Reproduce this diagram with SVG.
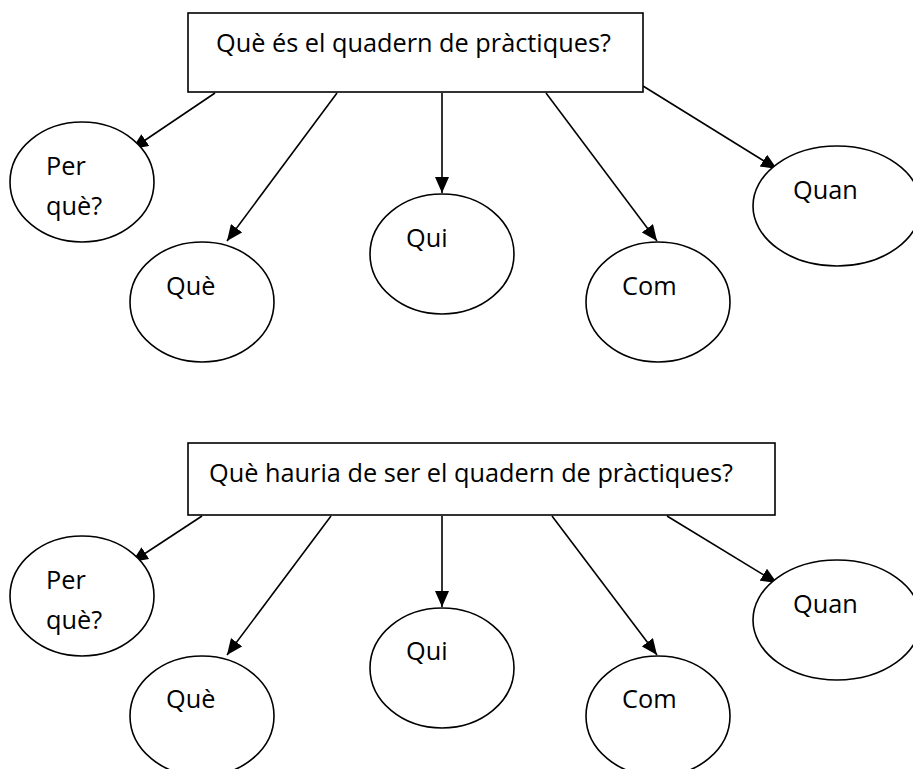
<svg xmlns="http://www.w3.org/2000/svg" width="913" height="769" viewBox="0 0 913 769">
<defs>
<marker id="ah" markerUnits="userSpaceOnUse" markerWidth="16" markerHeight="14" refX="16" refY="7" orient="auto">
<path d="M0,0 L16,7 L0,14 Z" fill="#000"/>
</marker>
<style>
.box{fill:#fff;stroke:#000;stroke-width:1.6}
.el{fill:#fff;stroke:#000;stroke-width:1.6}
.t{font-family:"Open Sans","Noto Sans","DejaVu Sans",sans-serif;font-size:25.3px;fill:#000}
.c{stroke:#000;stroke-width:1.6;fill:none;marker-end:url(#ah)}
</style>
</defs>
<rect width="913" height="769" fill="#fff"/>
<g id="connectors">
<line class="c" x1="215" y1="93" x2="132" y2="149"/>
<line class="c" x1="337" y1="93" x2="227" y2="241"/>
<line class="c" x1="442" y1="93" x2="442" y2="193"/>
<line class="c" x1="546" y1="93" x2="657" y2="241"/>
<line class="c" x1="643" y1="86" x2="777" y2="169"/>
<line class="c" x1="202" y1="516" x2="132" y2="562"/>
<line class="c" x1="331" y1="516" x2="227" y2="655"/>
<line class="c" x1="442" y1="516" x2="442" y2="607"/>
<line class="c" x1="552" y1="516" x2="657" y2="655"/>
<line class="c" x1="667" y1="516" x2="777" y2="583"/>
</g>
<g id="q1">
<rect class="box" x="188" y="13" width="455" height="79"/>
<text class="t" x="216" y="52">Què és el quadern de pràctiques?</text>
</g>
<g id="q1-perque">
<ellipse class="el" cx="82" cy="182" rx="72" ry="60"/>
<text class="t" x="46" y="175">Per</text>
<text class="t" x="46" y="215">què?</text>
</g>
<g id="q1-que">
<ellipse class="el" cx="202" cy="302" rx="72" ry="60"/>
<text class="t" x="166" y="295">Què</text>
</g>
<g id="q1-qui">
<ellipse class="el" cx="442" cy="254" rx="72" ry="60"/>
<text class="t" x="406" y="247">Qui</text>
</g>
<g id="q1-com">
<ellipse class="el" cx="658" cy="302" rx="72" ry="60"/>
<text class="t" x="622" y="295">Com</text>
</g>
<g id="q1-quan">
<ellipse class="el" cx="837" cy="206" rx="84" ry="60"/>
<text class="t" x="793" y="199">Quan</text>
</g>
<g id="q2">
<rect class="box" x="188" y="443" width="587" height="72"/>
<text class="t" x="209" y="482">Què hauria de ser el quadern de pràctiques?</text>
</g>
<g id="q2-perque">
<ellipse class="el" cx="82" cy="596" rx="72" ry="60"/>
<text class="t" x="46" y="589">Per</text>
<text class="t" x="46" y="629">què?</text>
</g>
<g id="q2-que">
<ellipse class="el" cx="202" cy="716" rx="72" ry="60"/>
<text class="t" x="166" y="708">Què</text>
</g>
<g id="q2-qui">
<ellipse class="el" cx="442" cy="668" rx="72" ry="60"/>
<text class="t" x="406" y="660">Qui</text>
</g>
<g id="q2-com">
<ellipse class="el" cx="658" cy="716" rx="72" ry="60"/>
<text class="t" x="622" y="708">Com</text>
</g>
<g id="q2-quan">
<ellipse class="el" cx="837" cy="620" rx="84" ry="60"/>
<text class="t" x="793" y="613">Quan</text>
</g>
</svg>
